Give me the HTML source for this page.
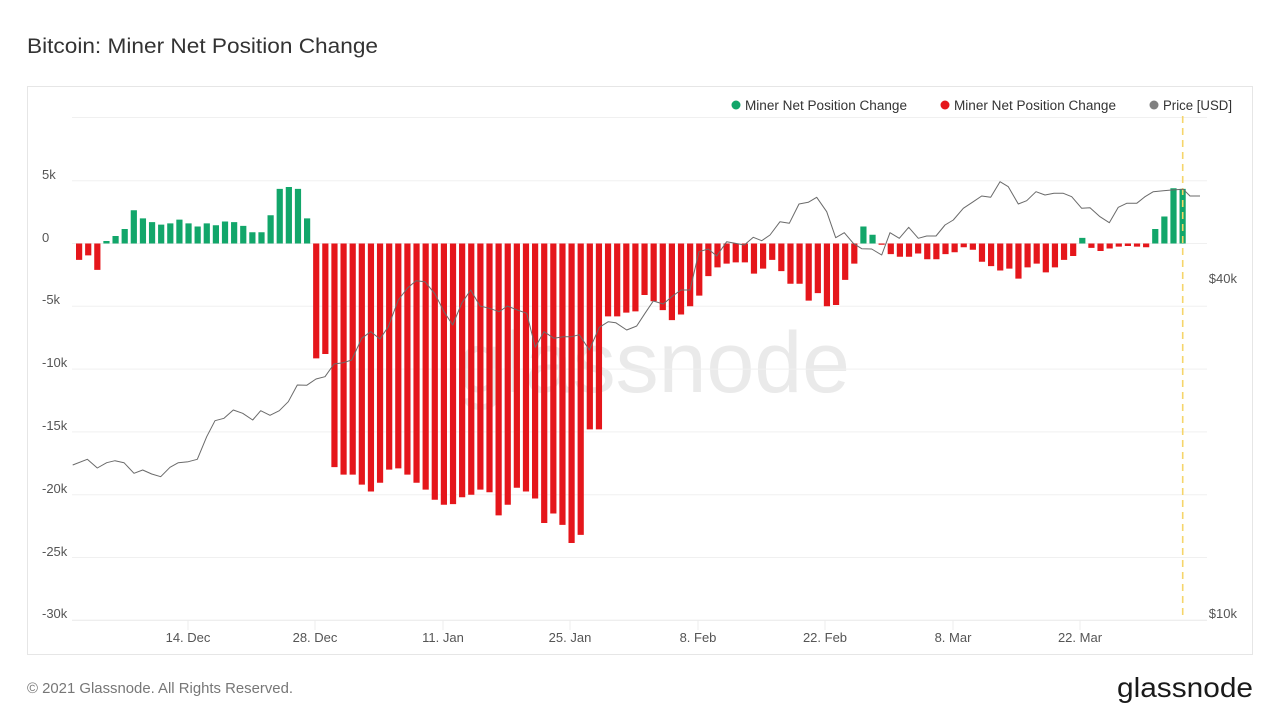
<!DOCTYPE html>
<html><head><meta charset="utf-8"><style>
html,body{margin:0;padding:0;background:#fff;width:1280px;height:720px;overflow:hidden}
svg{display:block}
text{font-family:"Liberation Sans",sans-serif}
</style></head><body>
<svg width="1280" height="720" viewBox="0 0 1280 720" xmlns="http://www.w3.org/2000/svg">
<text x="27" y="53" font-size="21" fill="#333" textLength="351" lengthAdjust="spacingAndGlyphs">Bitcoin: Miner Net Position Change</text>
<rect x="27.5" y="86.5" width="1225" height="568" fill="#fff" stroke="#e6e6e6"/>
<text x="850" y="392" font-size="86" fill="#eaeaea" text-anchor="end">glassnode</text>
<path stroke="#f0f0f0" fill="none" d="M72 117.5H1207M72 180.7H1207M72 243.5H1207M72 306.3H1207M72 369.1H1207M72 431.9H1207M72 494.7H1207M72 557.5H1207"/>
<path stroke="#e8e8e8" fill="none" d="M72 620.3H1207"/>
<path stroke="#ececec" fill="none" d="M188 620V630M315 620V630M443 620V630M570 620V630M698 620V630M825 620V630M953 620V630M1080 620V630"/>
<g font-size="13" fill="#555">
<text x="42" y="179">5k</text>
<text x="42" y="242">0</text>
<text x="42" y="304">-5k</text>
<text x="42" y="367">-10k</text>
<text x="42" y="430">-15k</text>
<text x="42" y="493">-20k</text>
<text x="42" y="556">-25k</text>
<text x="42" y="618">-30k</text>
<text x="1237" y="283" text-anchor="end">$40k</text>
<text x="1237" y="618" text-anchor="end">$10k</text>
</g>
<g font-size="13" fill="#555" text-anchor="middle">
<text x="188" y="642">14. Dec</text>
<text x="315" y="642">28. Dec</text>
<text x="443" y="642">11. Jan</text>
<text x="570" y="642">25. Jan</text>
<text x="698" y="642">8. Feb</text>
<text x="825" y="642">22. Feb</text>
<text x="953" y="642">8. Mar</text>
<text x="1080" y="642">22. Mar</text>
</g>
<g transform="translate(76,243.5) scale(9.12,12.56)">
<path fill="#12a66a" d="M3 0v-.2h.68v.2zM4 0v-.6h.68v.6zM5 0v-1.15h.68v1.15zM6 0v-2.65h.68v2.65zM7 0v-2h.68v2zM8 0v-1.7h.68v1.7zM9 0v-1.5h.68v1.5zM10 0v-1.6h.68v1.6zM11 0v-1.9h.68v1.9zM12 0v-1.6h.68v1.6zM13 0v-1.35h.68v1.35zM14 0v-1.6h.68v1.6zM15 0v-1.45h.68v1.45zM16 0v-1.75h.68v1.75zM17 0v-1.7h.68v1.7zM18 0v-1.4h.68v1.4zM19 0v-.9h.68v.9zM20 0v-.9h.68v.9zM21 0v-2.25h.68v2.25zM22 0v-4.35h.68v4.35zM23 0v-4.5h.68v4.5zM24 0v-4.35h.68v4.35zM25 0v-2h.68v2zM86 0v-1.35h.68v1.35zM87 0v-.7h.68v.7zM110 0v-.45h.68v.45zM118 0v-1.15h.68v1.15zM119 0v-2.15h.68v2.15zM120 0v-4.4h.68v4.4zM121 0v-4.35h.68v4.35z"/>
<path fill="#e5161b" d="M0 0v1.3h.68v-1.3zM1 0v.95h.68v-.95zM2 0v2.1h.68v-2.1zM26 0v9.15h.68v-9.15zM27 0v8.8h.68v-8.8zM28 0v17.8h.68v-17.8zM29 0v18.4h.68v-18.4zM30 0v18.4h.68v-18.4zM31 0v19.2h.68v-19.2zM32 0v19.75h.68v-19.75zM33 0v19.05h.68v-19.05zM34 0v18h.68v-18zM35 0v17.9h.68v-17.9zM36 0v18.4h.68v-18.4zM37 0v19.05h.68v-19.05zM38 0v19.6h.68v-19.6zM39 0v20.4h.68v-20.4zM40 0v20.8h.68v-20.8zM41 0v20.75h.68v-20.75zM42 0v20.2h.68v-20.2zM43 0v20h.68v-20zM44 0v19.6h.68v-19.6zM45 0v19.8h.68v-19.8zM46 0v21.65h.68v-21.65zM47 0v20.8h.68v-20.8zM48 0v19.45h.68v-19.45zM49 0v19.75h.68v-19.75zM50 0v20.3h.68v-20.3zM51 0v22.25h.68v-22.25zM52 0v21.5h.68v-21.5zM53 0v22.4h.68v-22.4zM54 0v23.85h.68v-23.85zM55 0v23.2h.68v-23.2zM56 0v14.8h.68v-14.8zM57 0v14.8h.68v-14.8zM58 0v5.8h.68v-5.8zM59 0v5.8h.68v-5.8zM60 0v5.5h.68v-5.5zM61 0v5.4h.68v-5.4zM62 0v4.1h.68v-4.1zM63 0v4.6h.68v-4.6zM64 0v5.3h.68v-5.3zM65 0v6.1h.68v-6.1zM66 0v5.65h.68v-5.65zM67 0v5h.68v-5zM68 0v4.15h.68v-4.15zM69 0v2.6h.68v-2.6zM70 0v1.9h.68v-1.9zM71 0v1.6h.68v-1.6zM72 0v1.5h.68v-1.5zM73 0v1.5h.68v-1.5zM74 0v2.4h.68v-2.4zM75 0v2h.68v-2zM76 0v1.3h.68v-1.3zM77 0v2.2h.68v-2.2zM78 0v3.2h.68v-3.2zM79 0v3.2h.68v-3.2zM80 0v4.55h.68v-4.55zM81 0v3.95h.68v-3.95zM82 0v5h.68v-5zM83 0v4.9h.68v-4.9zM84 0v2.9h.68v-2.9zM85 0v1.6h.68v-1.6zM88 0v.1h.68v-.1zM89 0v.85h.68v-.85zM90 0v1.05h.68v-1.05zM91 0v1.05h.68v-1.05zM92 0v.8h.68v-.8zM93 0v1.25h.68v-1.25zM94 0v1.25h.68v-1.25zM95 0v.85h.68v-.85zM96 0v.7h.68v-.7zM97 0v.3h.68v-.3zM98 0v.5h.68v-.5zM99 0v1.45h.68v-1.45zM100 0v1.8h.68v-1.8zM101 0v2.15h.68v-2.15zM102 0v2h.68v-2zM103 0v2.8h.68v-2.8zM104 0v1.9h.68v-1.9zM105 0v1.6h.68v-1.6zM106 0v2.3h.68v-2.3zM107 0v1.9h.68v-1.9zM108 0v1.3h.68v-1.3zM109 0v1h.68v-1zM111 0v.35h.68v-.35zM112 0v.6h.68v-.6zM113 0v.4h.68v-.4zM114 0v.25h.68v-.25zM115 0v.2h.68v-.2zM116 0v.25h.68v-.25zM117 0v.3h.68v-.3z"/>
</g>
<path d="M1182.7 116V620" stroke="#f6d56a" stroke-width="1.6" stroke-dasharray="7,5"/>
<polyline fill="none" stroke="#6a6a6a" stroke-width="1" stroke-linejoin="round" points="72.7,465 87.3,459.3 97.3,468 106.7,462.7 115,460.7 124,462.7 134,473.3 142.7,470 151.7,474 160.7,476.7 170,467.3 178.3,462.7 188.3,461.7 197.3,459.3 206.7,436.7 215,420.7 224,418.3 233.3,410 242.7,413.3 252.7,420 260.7,410.7 270,415.3 279.3,410.7 288.3,401.7 297.3,385 306.7,385.3 316,379 325,376.7 334,364 343.3,362.7 351.7,360 361.7,338.3 370.7,331.7 380,339 388.3,326.7 398.3,300 407.3,288.3 416,280.7 425,281.7 435,294 444,311.7 452.7,325 461.7,303.3 470.7,290 480,306 489.3,308.3 499.3,311.7 507.3,306 517.3,310 526.7,313.3 535.3,347.3 544,331.7 554,338.3 563.3,336.7 571.7,336.7 579.3,334.7 589.3,350 599.3,327.3 608.3,321.7 615.7,322.7 626.7,330 636.7,326 645,313.3 653.3,301 663.3,304 671.7,296.7 681,290 690,290 699,251.7 708.3,249 716.7,256 726.7,241.7 735,243.3 744.3,245 753.3,237.3 761.7,240.7 770,235 780,221.7 789.3,223.3 799,204 808.3,202.3 816.7,197.3 826.7,211.7 835.7,237.7 844.3,232.7 853.3,243.3 861.7,248.7 871.7,249 881.7,255 890,232.7 899.3,238.3 908.7,227.3 918.3,238.3 926.7,236 936,236 945,225 953.3,220 963.3,208.3 973.3,201.7 981.7,196 990.7,197.3 1000,181.7 1008.3,186.7 1018.3,204 1026.7,200.7 1036,191.7 1045,195 1054,193.3 1063.3,193.3 1071.7,196.7 1081.7,208.3 1090,207.7 1100,216.7 1109.3,222.7 1118.3,207.3 1126.7,203.3 1136.7,203.3 1145,196.7 1153.3,191.7 1163.3,190.7 1171.7,190 1183.3,189.3 1190,196 1200,196"/>
<g font-size="13.5" fill="#333">
<circle cx="736" cy="105" r="4.5" fill="#12a66a"/>
<text x="745" y="110" textLength="162" lengthAdjust="spacingAndGlyphs">Miner Net Position Change</text>
<circle cx="945" cy="105" r="4.5" fill="#e5161b"/>
<text x="954" y="110" textLength="162" lengthAdjust="spacingAndGlyphs">Miner Net Position Change</text>
<circle cx="1154" cy="105" r="4.5" fill="#808080"/>
<text x="1163" y="110" textLength="69" lengthAdjust="spacingAndGlyphs">Price [USD]</text>
</g>
<text x="27" y="693" font-size="14.8" fill="#777" textLength="266" lengthAdjust="spacingAndGlyphs">© 2021 Glassnode. All Rights Reserved.</text>
<text x="1253" y="697" font-size="28" fill="#1a1a1a" text-anchor="end" textLength="136" lengthAdjust="spacingAndGlyphs">glassnode</text>
</svg>
</body></html>
